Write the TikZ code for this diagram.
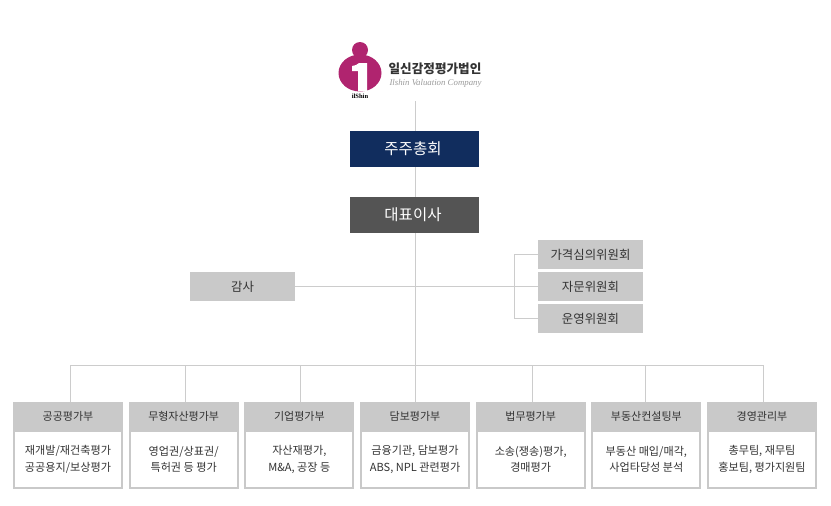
\documentclass[tikz,border=0pt]{standalone}
\usepackage{fontspec}
\setmainfont{Noto Sans CJK KR}
\newfontfamily\logoserif{Liberation Serif}
\usetikzlibrary{positioning}
\definecolor{linegray}{HTML}{CCCCCC}
\definecolor{boxgray}{HTML}{C9C9C9}
\definecolor{textgray}{HTML}{333333}
\definecolor{navybox}{HTML}{112D5E}
\definecolor{darkbox}{HTML}{545454}
\definecolor{logopink}{HTML}{B0246F}
\tikzset{
	line/.style={draw=linegray, line width=1pt},
	topbox/.style={rectangle, text=white, font=\fontsize{15.5}{18}\selectfont, minimum width=129pt, minimum height=36pt, outer sep=0pt, execute at end node={\hspace{3pt}}},
	greybox/.style={rectangle, fill=boxgray, text=textgray, font=\fontsize{12.4}{14}\selectfont, minimum width=105pt, minimum height=29pt, outer sep=0pt},
	depthead/.style={rectangle, fill=boxgray, text=textgray, font=\fontsize{11}{13}\selectfont, minimum width=110pt, minimum height=28pt, outer sep=0pt},
	deptbody/.style={rectangle, draw=boxgray, fill=white, line width=2pt, text=textgray, align=center, font=\fontsize{11.1}{16.3}\selectfont, minimum width=108pt, minimum height=57pt, below=0pt of #1},
}
\begin{document}
\begin{tikzpicture}[x=1pt, y=-1pt]
	\useasboundingbox (0,0) rectangle (831,506);

	% logo
	\fill[logopink] (360,73) ellipse (21.5 and 18.5);
	\fill[logopink] (360,50) circle (8);
	\fill[white] (352,66) .. controls (356,65.5) and (358,64) .. (359,63) -- (367,63) -- (367,91) -- (358,91) -- (358,71) -- (352,71) -- cycle;
	\node (logosmall) at (360,96.5) [font=\logoserif\bfseries\fontsize{6.5}{7}\selectfont, inner sep=0pt] {ilShin};
	\node (logoname) at (435,69) [font=\bfseries\fontsize{12.6}{15}\selectfont, text=textgray, inner sep=0pt] {일신감정평가법인};
	\node (logosub) at (435.5,83.5) [font=\logoserif\itshape\fontsize{8.8}{11}\selectfont, text=gray!80, inner sep=0pt] {Ilshin Valuation Company};

	% top of the chart
	\node (assembly) at (414.5,149) [topbox, fill=navybox] {주주총회};
	\node (ceo) at (414.5,215) [topbox, fill=darkbox] {대표이사};
	\node (audit) at (242.5,286.5) [greybox] {감사};
	\node (pricing) at (590.5,254.5) [greybox] {가격심의위원회};
	\node (advisory) [greybox, below=3pt of pricing] {자문위원회};
	\node (operating) [greybox, below=3pt of advisory] {운영위원회};

	% departments
	\node (publichead) at (68,416) [depthead] {공공평가부};
	\node (intanghead) [depthead, right=5.67pt of publichead] {무형자산평가부};
	\node (corphead) [depthead, right=5.67pt of intanghead] {기업평가부};
	\node (loanhead) [depthead, right=5.67pt of corphead] {담보평가부};
	\node (lawhead) [depthead, right=5.67pt of loanhead] {법무평가부};
	\node (realhead) [depthead, right=5.67pt of lawhead] {부동산컨설팅부};
	\node (manghead) [depthead, right=5.67pt of realhead] {경영관리부};

	\node (publicbody) [deptbody=publichead] {재개발/재건축평가\\공공용지/보상평가};
	\node (intangbody) [deptbody=intanghead] {영업권/상표권/\\특허권 등 평가};
	\node (corpbody) [deptbody=corphead] {자산재평가,\\M\&A, 공장 등};
	\node (loanbody) [deptbody=loanhead] {금융기관, 담보평가\\ABS, NPL 관련평가};
	\node (lawbody) [deptbody=lawhead] {소송(쟁송)평가,\\경매평가};
	\node (realbody) [deptbody=realhead] {부동산 매입/매각,\\사업타당성 분석};
	\node (mangbody) [deptbody=manghead] {총무팀, 재무팀\\홍보팀, 평가지원팀};

	\coordinate (logoend) at (415.5,101);
	\coordinate (busmid) at (415.5,365);

	% connectors
	\draw[line] (logoend) -- (logoend |- assembly.north);
	\draw[line] ([xshift=1pt]assembly.south) -- ([xshift=1pt]ceo.north);
	\draw[line] ([xshift=1pt]ceo.south) -- (busmid);
	\draw[line] (audit) -- (advisory);
	\draw[line] (pricing.west) -- ++(-24,0) |- (operating.west);
	\draw[line] (busmid) -| ([xshift=2.5pt]publichead.north);
	\draw[line] (busmid) -| ([xshift=1.5pt]intanghead.north);
	\draw[line] (busmid) -| ([xshift=1pt]corphead.north);
	\draw[line] (busmid) -- (loanhead.north -| busmid);
	\draw[line] (busmid) -| ([xshift=2pt]lawhead.north);
	\draw[line] (busmid) -| ([xshift=-1pt]realhead.north);
	\draw[line] (busmid) -| ([xshift=1pt]manghead.north);
\end{tikzpicture}
\end{document}
